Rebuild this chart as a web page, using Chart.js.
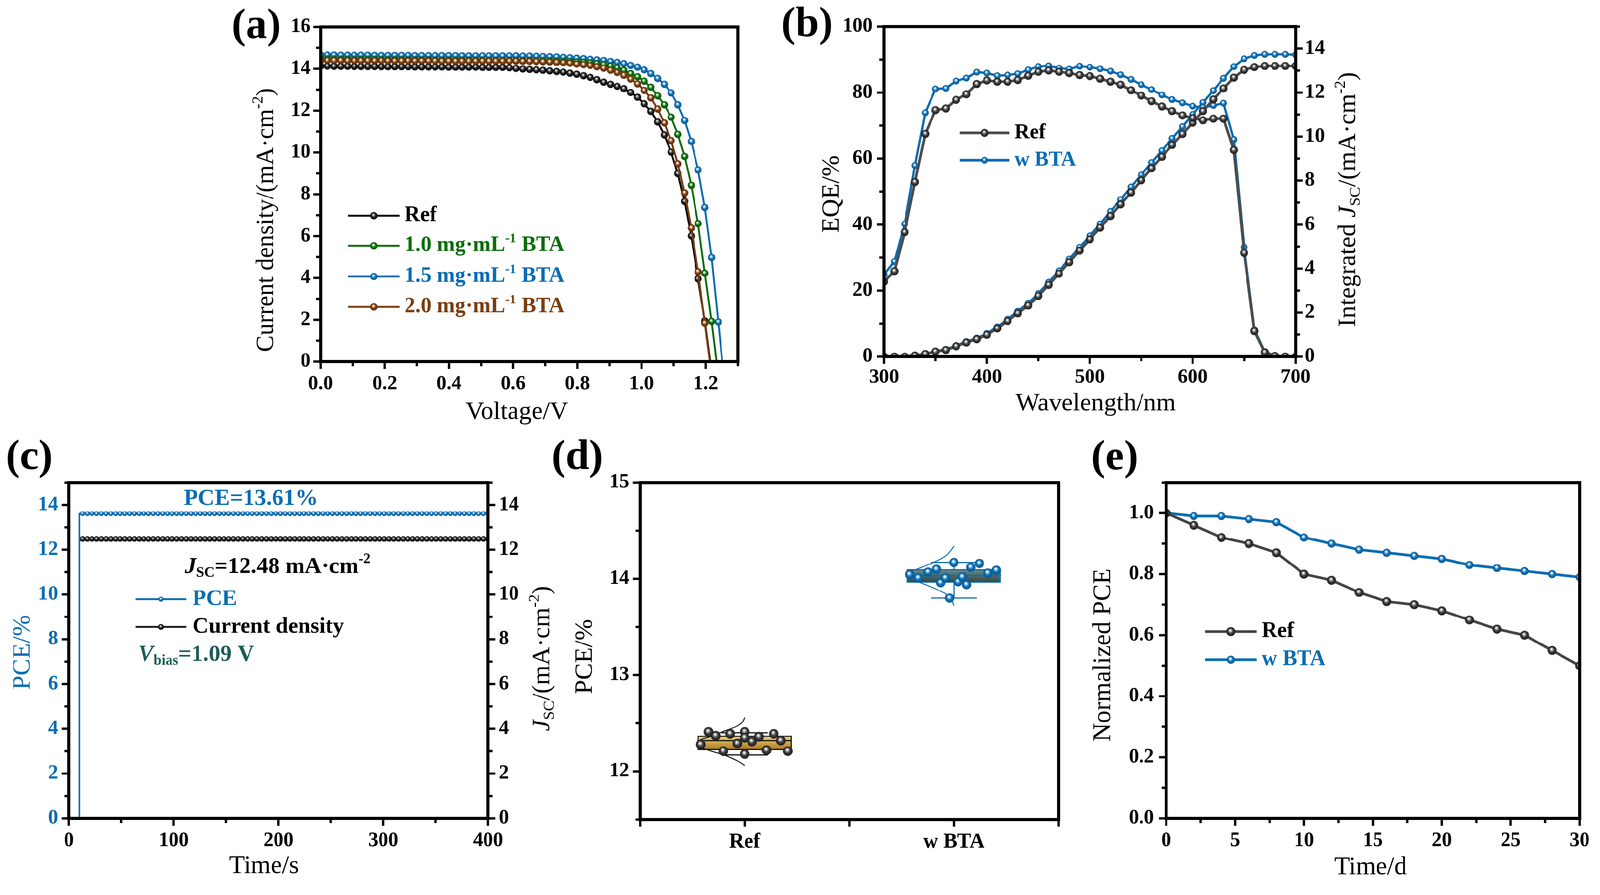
<!DOCTYPE html>
<html>
<head>
<meta charset="utf-8">
<title>BTA device results</title>
<script src="https://cdn.jsdelivr.net/npm/chart.js@4.4.1/dist/chart.umd.min.js"></script>
<style>
    html, body { margin: 0; padding: 0; background: #fff; overflow: hidden; }
    #page { position: relative; width: 4157px; height: 2290px; overflow: hidden; background: #fff; transform-origin: 0 0; }
    #page canvas { position: absolute; left: 0; top: 0; }
</style>
</head>
<body>
<div id="page">
    <canvas id="chartA" width="4157" height="2290"></canvas>
    <canvas id="chartB" width="4157" height="2290"></canvas>
    <canvas id="chartC" width="4157" height="2290"></canvas>
    <canvas id="chartD" width="4157" height="2290"></canvas>
    <canvas id="chartE" width="4157" height="2290"></canvas>
</div>
<script>
// ---- (a) J-V curves ----
const voltage = [0.000, 0.021, 0.042, 0.063, 0.084, 0.105, 0.126, 0.147, 0.168, 0.189,
    0.210, 0.231, 0.252, 0.273, 0.294, 0.315, 0.336, 0.357, 0.378, 0.399,
    0.420, 0.441, 0.462, 0.483, 0.504, 0.525, 0.546, 0.567, 0.588, 0.609,
    0.630, 0.651, 0.672, 0.693, 0.714, 0.735, 0.756, 0.777, 0.798, 0.819,
    0.840, 0.861, 0.882, 0.903, 0.924, 0.945, 0.966, 0.987, 1.008, 1.029,
    1.050, 1.071, 1.092, 1.113, 1.134, 1.155, 1.176, 1.197, 1.218, 1.239, 1.260];
const jvRef = [14.13, 14.13, 14.12, 14.12, 14.12, 14.11, 14.11, 14.11, 14.11, 14.10,
    14.10, 14.10, 14.10, 14.10, 14.09, 14.09, 14.09, 14.09, 14.09, 14.08,
    14.08, 14.08, 14.08, 14.08, 14.07, 14.07, 14.07, 14.07, 14.05, 14.02,
    13.99, 13.97, 13.95, 13.93, 13.90, 13.87, 13.84, 13.79, 13.74, 13.67,
    13.59, 13.48, 13.36, 13.26, 13.16, 13.05, 12.87, 12.64, 12.33, 11.97,
    11.46, 10.84, 10.02, 8.99, 7.66, 6.01, 3.96, 1.95, -0.45];
const jv10 = [14.47, 14.47, 14.46, 14.46, 14.46, 14.45, 14.45, 14.45, 14.45, 14.44,
    14.44, 14.44, 14.44, 14.43, 14.43, 14.43, 14.43, 14.42, 14.42, 14.42,
    14.42, 14.41, 14.41, 14.41, 14.41, 14.40, 14.40, 14.40, 14.40, 14.40,
    14.39, 14.39, 14.38, 14.38, 14.38, 14.37, 14.36, 14.35, 14.33, 14.31,
    14.28, 14.25, 14.20, 14.14, 14.05, 13.93, 13.77, 13.62, 13.41, 13.12,
    12.71, 12.28, 11.69, 10.87, 9.81, 8.43, 6.60, 4.23, 1.93, -0.7];
const jv15 = [14.66, 14.66, 14.66, 14.65, 14.65, 14.65, 14.65, 14.65, 14.64, 14.64,
    14.64, 14.64, 14.64, 14.64, 14.63, 14.63, 14.63, 14.63, 14.63, 14.63,
    14.63, 14.62, 14.62, 14.62, 14.62, 14.62, 14.62, 14.62, 14.62, 14.62,
    14.61, 14.61, 14.60, 14.59, 14.58, 14.57, 14.55, 14.53, 14.51, 14.49,
    14.46, 14.43, 14.40, 14.35, 14.31, 14.25, 14.16, 14.08, 13.95, 13.77,
    13.54, 13.26, 12.85, 12.28, 11.53, 10.53, 9.17, 7.37, 4.98, 1.90, -1.3];
const jv20 = [14.40, 14.40, 14.40, 14.40, 14.39, 14.39, 14.39, 14.39, 14.39, 14.39,
    14.38, 14.38, 14.38, 14.38, 14.38, 14.38, 14.38, 14.38, 14.37, 14.37,
    14.37, 14.37, 14.37, 14.37, 14.37, 14.37, 14.37, 14.37, 14.37, 14.37,
    14.36, 14.36, 14.35, 14.34, 14.33, 14.31, 14.29, 14.27, 14.23, 14.20,
    14.16, 14.10, 14.03, 13.93, 13.82, 13.69, 13.51, 13.28, 12.97, 12.61,
    12.08, 11.41, 10.57, 9.46, 8.07, 6.39, 4.30, 1.85, -0.6];

// ---- (b) EQE and integrated Jsc ----
const wavelength = [300, 310, 320, 330, 340, 350, 360, 370, 380, 390, 400, 410, 420, 430, 440, 450, 460, 470, 480, 490,
    500, 510, 520, 530, 540, 550, 560, 570, 580, 590, 600, 610, 620, 630, 640, 650, 660, 670, 680, 690, 700];
const eqeRef = [22.7, 25.9, 37.7, 52.9, 67.5, 74.7, 75.2, 77.8, 79.5, 82.6, 83.7, 83.3, 83.3, 83.8, 85.1, 86.3, 86.7, 86.3, 85.9, 85.3,
    85.0, 84.2, 83.3, 82.4, 80.7, 79.1, 77.4, 75.8, 74.4, 73.1, 72.3, 71.6, 72.1, 72.1, 62.6, 31.4, 7.7, 1.3, 0.2, 0, 0];
const eqeBta = [24.9, 28.8, 40.2, 57.9, 73.9, 81.1, 81.3, 83.5, 84.4, 86.2, 85.9, 85.1, 85.3, 85.7, 86.9, 87.9, 88.1, 87.4, 87.1, 88.0,
    87.7, 87.2, 86.5, 85.4, 84.0, 82.4, 80.9, 79.3, 77.9, 76.9, 75.9, 75.5, 76.1, 76.8, 65.8, 33.2, 8.2, 1.5, 0.3, 0, 0];
const intRef = [0, 0, 0, 0.05, 0.12, 0.23, 0.30, 0.47, 0.64, 0.79, 0.99, 1.28, 1.62, 1.97, 2.32, 2.76, 3.26, 3.77, 4.29, 4.82,
    5.33, 5.86, 6.39, 6.92, 7.46, 8.01, 8.56, 9.08, 9.62, 10.12, 10.63, 11.16, 11.69, 12.19, 12.68, 13.03, 13.16, 13.21, 13.21, 13.21, 13.21];
const intBta = [0, 0, 0, 0.06, 0.13, 0.25, 0.33, 0.50, 0.68, 0.84, 1.04, 1.35, 1.70, 2.06, 2.43, 2.87, 3.38, 3.90, 4.43, 4.97,
    5.49, 6.03, 6.60, 7.14, 7.71, 8.26, 8.82, 9.36, 9.92, 10.45, 11.01, 11.55, 12.09, 12.65, 13.18, 13.54, 13.69, 13.74, 13.74, 13.74, 13.72];

// ---- (c) steady-state output ----
const pceTime = [10, 10, 13, 17.5, 22, 26.5, 31, 35.5, 40, 44.5, 49, 53.5, 58, 62.5, 67, 71.5, 76, 80.5, 85, 89.5,
    94, 98.5, 103, 107.5, 112, 116.5, 121, 125.5, 130, 134.5, 139, 143.5, 148, 152.5, 157, 161.5, 166, 170.5, 175, 179.5,
    184, 188.5, 193, 197.5, 202, 206.5, 211, 215.5, 220, 224.5, 229, 233.5, 238, 242.5, 247, 251.5, 256, 260.5, 265, 269.5,
    274, 278.5, 283, 287.5, 292, 296.5, 301, 305.5, 310, 314.5, 319, 323.5, 328, 332.5, 337, 341.5, 346, 350.5, 355, 359.5,
    364, 368.5, 373, 377.5, 382, 386.5, 391, 395.5, 400];
const pceValue = [0, 13.61,
    13.61, 13.61, 13.61, 13.61, 13.61, 13.61, 13.61, 13.61, 13.61, 13.61,
    13.61, 13.61, 13.61, 13.61, 13.61, 13.61, 13.61, 13.61, 13.61, 13.61,
    13.61, 13.61, 13.61, 13.61, 13.61, 13.61, 13.61, 13.61, 13.61, 13.61,
    13.61, 13.61, 13.61, 13.61, 13.61, 13.61, 13.61, 13.61, 13.61, 13.61,
    13.61, 13.61, 13.61, 13.61, 13.61, 13.61, 13.61, 13.61, 13.61, 13.61,
    13.61, 13.61, 13.61, 13.61, 13.61, 13.61, 13.61, 13.61, 13.61, 13.61,
    13.61, 13.61, 13.61, 13.61, 13.61, 13.61, 13.61, 13.61, 13.61, 13.61,
    13.61, 13.61, 13.61, 13.61, 13.61, 13.61, 13.61, 13.61, 13.61, 13.61,
    13.61, 13.61, 13.61, 13.61, 13.61, 13.61, 13.61];
const jscTime = pceTime.slice(2);
const jscValue = [12.48, 12.48, 12.48, 12.48, 12.48, 12.48, 12.48, 12.48, 12.48, 12.48,
    12.48, 12.48, 12.48, 12.48, 12.48, 12.48, 12.48, 12.48, 12.48, 12.48,
    12.48, 12.48, 12.48, 12.48, 12.48, 12.48, 12.48, 12.48, 12.48, 12.48,
    12.48, 12.48, 12.48, 12.48, 12.48, 12.48, 12.48, 12.48, 12.48, 12.48,
    12.48, 12.48, 12.48, 12.48, 12.48, 12.48, 12.48, 12.48, 12.48, 12.48,
    12.48, 12.48, 12.48, 12.48, 12.48, 12.48, 12.48, 12.48, 12.48, 12.48,
    12.48, 12.48, 12.48, 12.48, 12.48, 12.48, 12.48, 12.48, 12.48, 12.48,
    12.48, 12.48, 12.48, 12.48, 12.48, 12.48, 12.48, 12.48, 12.48, 12.48,
    12.48, 12.48, 12.48, 12.48, 12.48, 12.48, 12.48];

// ---- (d) PCE statistics ----
const groups = ['Ref', 'w BTA'];
const refPce = [12.41, 12.37, 12.28, 12.21, 12.39, 12.41, 12.35, 12.29, 12.18, 12.31, 12.36, 12.22, 12.39, 12.32, 12.21];
const refJitter = [-0.173, -0.139, -0.21, -0.102, -0.069, 0, 0, -0.035, 0, 0.035, 0.068, 0.104, 0.139, 0.173, 0.206];
const btaPce = [14.045, 14.01, 14.07, 14.10, 13.96, 14.01, 13.80, 14.17, 13.97, 14.02, 13.94, 14.12, 14.16, 14.06, 14.09];
const btaJitter = [-0.211, -0.17, -0.124, -0.083, -0.063, -0.041, -0.021, 0, 0.02, 0.041, 0.061, 0.081, 0.122, 0.163, 0.203];
// min, q1, median, q3, max
const refBox = [12.17, 12.22, 12.32, 12.37, 12.40];
const btaBox = [13.80, 13.96, 14.035, 14.10, 14.17];
// distribution curves (offset from group centre, PCE)
const refCurveX = [0, -0.012, -0.036, -0.094, -0.168, -0.218, -0.226, -0.21, -0.16, -0.086, -0.028, 0];
const refCurveY = [12.56, 12.51, 12.47, 12.42, 12.36, 12.32, 12.29, 12.25, 12.21, 12.16, 12.10, 12.06];
const btaCurveX = [0, -0.013, -0.038, -0.087, -0.153, -0.21, -0.225, -0.2, -0.137, -0.071, -0.021, 0];
const btaCurveY = [14.34, 14.30, 14.24, 14.18, 14.12, 14.07, 14.04, 14.00, 13.94, 13.88, 13.81, 13.72];

// ---- (e) stability ----
const agingDays = [0, 2, 4, 6, 8, 10, 12, 14, 16, 18, 20, 22, 24, 26, 28, 30];
const agingRef = [1.0, 0.96, 0.92, 0.90, 0.87, 0.80, 0.78, 0.74, 0.71, 0.70, 0.68, 0.65, 0.62, 0.60, 0.55, 0.50];
const agingBta = [1.0, 0.99, 0.99, 0.98, 0.97, 0.92, 0.90, 0.88, 0.87, 0.86, 0.85, 0.83, 0.82, 0.81, 0.80, 0.79];

const FONT = '"Liberation Serif", "Times New Roman", Times, serif';
const BLUE = '#0b6db2';
const GREEN = '#0a6e0a';
const BROWN = '#7a3e12';
const TEAL = '#1d5e59';
const AXIS_W = 170;  // box reserved for y tick labels
const AXIS_H = 130;  // box reserved for x tick labels

// fit the 4157x2290 sheet into the window
const page = document.getElementById('page');
const fitScale = Math.min(window.innerWidth / 4157, window.innerHeight / 2290);
if (fitScale > 0 && Math.abs(fitScale - 1) > 0.001) {
    page.style.transform = `scale(${fitScale})`;
}

// shaded ball used as marker
function makeBall(d, base, rim, glow) {
    const c = document.createElement('canvas');
    c.width = d;
    c.height = d;
    const g = c.getContext('2d');
    const r = d / 2;
    const grad = g.createRadialGradient(r * 0.85, r * 0.7, 0, r, r, r);
    grad.addColorStop(0, '#ffffff');
    grad.addColorStop(0.2, glow);
    grad.addColorStop(0.5, base);
    grad.addColorStop(1, rim);
    g.fillStyle = grad;
    g.beginPath();
    g.arc(r, r, r - 0.5, 0, Math.PI * 2);
    g.fill();
    return c;
}
const balls = {
    black: d => makeBall(d, '#262626', '#000000', '#b5b5b5'),
    gray: d => makeBall(d, '#444444', '#151515', '#d0d0d0'),
    blue: d => makeBall(d, '#1778bd', '#064f86', '#c4eaff'),
    green: d => makeBall(d, '#147814', '#054505', '#c3efc3'),
    brown: d => makeBall(d, '#874818', '#4f2405', '#f4d6b9')
};

// text with italic / sub / sup pieces
function drawRich(ctx, item) {
    const size = item.size;
    const weight = item.weight || 'normal';
    ctx.save();
    ctx.translate(item.x, item.y);
    ctx.rotate((item.rot || 0) * Math.PI / 180);
    ctx.textBaseline = 'middle';
    ctx.textAlign = 'left';
    const segs = item.parts.map(p => {
        const part = typeof p === 'string' ? { t: p } : p;
        const s = (part.sub || part.sup) ? size * 0.62 : size;
        const font = `${part.it ? 'italic ' : ''}${weight} ${s}px ${FONT}`;
        ctx.font = font;
        return { t: part.t, font, w: ctx.measureText(part.t).width, dy: part.sub ? size * 0.28 : part.sup ? -size * 0.32 : 0 };
    });
    const total = segs.reduce((a, s) => a + s.w, 0);
    let cx = item.align === 'center' ? -total / 2 : item.align === 'right' ? -total : 0;
    ctx.fillStyle = item.color || '#000';
    segs.forEach(s => {
        ctx.font = s.font;
        ctx.fillText(s.t, cx, s.dy);
        cx += s.w;
    });
    ctx.restore();
}

// frame, tick marks, legend and labels for one panel
function deco(spec) {
    return {
        id: 'deco',
        afterDatasetsDraw(chart) {
            const ctx = chart.ctx;
            const area = chart.chartArea;
            ctx.save();
            ctx.strokeStyle = '#000';
            ctx.lineWidth = 6;
            (spec.ticks || []).forEach(t => {
                const s = chart.scales[t.id];
                const majors = s.ticks.map(k => k.value);
                const mark = (v, len) => {
                    const p = s.getPixelForValue(v);
                    ctx.beginPath();
                    if (t.side === 'bottom') { ctx.moveTo(p, area.bottom); ctx.lineTo(p, area.bottom + len); }
                    else if (t.side === 'left') { ctx.moveTo(area.left, p); ctx.lineTo(area.left - len, p); }
                    else { ctx.moveTo(area.right, p); ctx.lineTo(area.right + len, p); }
                    ctx.stroke();
                };
                majors.forEach(v => mark(v, 19));
                if (t.minor) {
                    for (let k = Math.ceil(s.min / t.minor - 1e-6); k * t.minor <= s.max + 1e-6; k++) {
                        const v = k * t.minor;
                        if (!majors.some(m => Math.abs(m - v) < 1e-6)) mark(v, 12);
                    }
                }
            });
            ctx.lineWidth = 8;
            ctx.strokeRect(area.left, area.top, area.right - area.left, area.bottom - area.top);

            const lg = spec.legend;
            if (lg) {
                lg.rows.forEach(row => {
                    const ds = chart.data.datasets[row.ds];
                    ctx.strokeStyle = ds.borderColor;
                    ctx.lineWidth = lg.lw;
                    ctx.beginPath();
                    ctx.moveTo(lg.x1, row.y);
                    ctx.lineTo(lg.x2, row.y);
                    ctx.stroke();
                    const img = ds.pointStyle;
                    ctx.drawImage(img, (lg.x1 + lg.x2) / 2 - img.width / 2, row.y - img.height / 2);
                    drawRich(ctx, { x: lg.tx, y: row.y, parts: row.parts, size: lg.size, weight: 'bold', color: row.color });
                });
            }
            (spec.texts || []).forEach(t => drawRich(ctx, t));
            ctx.restore();
        }
    };
}

function axis(min, max, step, o) {
    const horizontal = o.position === 'bottom';
    return {
        type: 'linear',
        position: o.position,
        min: min,
        max: max,
        offset: false,
        grid: { display: false, drawTicks: false },
        border: { display: false },
        ticks: {
            stepSize: step,
            includeBounds: false,
            autoSkip: false,
            maxRotation: 0,
            padding: o.pad,
            color: o.color || '#000',
            font: { family: FONT, size: o.size || 52, weight: 'bold' },
            callback: o.fmt || (v => String(v))
        },
        // fixed axis boxes so the plot frame lands where the layout says
        afterFit: horizontal ? s => { s.height = AXIS_H; } : s => { s.width = AXIS_W; }
    };
}

// plot frame given as sheet pixels: left, top, right, bottom
function frame(left, top, right, bottom, hasRight) {
    return {
        padding: {
            left: left - AXIS_W,
            top: top,
            right: 4157 - right - (hasRight ? AXIS_W : 0),
            bottom: 2290 - bottom - AXIS_H
        }
    };
}

const base = {
    responsive: false,
    animation: false,
    devicePixelRatio: 1,
    events: [],
    plugins: { legend: { display: false }, tooltip: { enabled: false } }
};

const xy = (xs, ys) => ys.map((y, i) => ({ x: xs[i], y: y }));

function lineSet(label, data, color, width, ball, extra) {
    return Object.assign({
        label: label,
        data: data,
        borderColor: color,
        borderWidth: width,
        pointStyle: ball,
        pointRadius: ball.width / 2,
        pointBorderWidth: 0,
        tension: 0,
        fill: false
    }, extra || {});
}

// (a)
const ballA = { black: balls.black(20), green: balls.green(20), blue: balls.blue(20), brown: balls.brown(20) };
new Chart(document.getElementById('chartA'), {
    type: 'line',
    data: {
        datasets: [
            lineSet('2.0 mg·mL-1 BTA', xy(voltage, jv20), BROWN, 5, ballA.brown),
            lineSet('1.0 mg·mL-1 BTA', xy(voltage, jv10), GREEN, 5, ballA.green),
            lineSet('1.5 mg·mL-1 BTA', xy(voltage, jv15), BLUE, 5, ballA.blue),
            lineSet('Ref', xy(voltage, jvRef), '#000000', 5, ballA.black)
        ]
    },
    options: Object.assign({}, base, {
        layout: frame(833, 70, 1917, 939, false),
        scales: {
            x: axis(0, 1.3, 0.2, { position: 'bottom', pad: 27, fmt: v => v.toFixed(1) }),
            y: axis(0, 16, 2, { position: 'left', pad: 26 })
        }
    }),
    plugins: [deco({
        ticks: [{ id: 'x', side: 'bottom', minor: 0.1 }, { id: 'y', side: 'left', minor: 1 }],
        legend: {
            x1: 904, x2: 1038, tx: 1051, size: 56, lw: 5,
            rows: [
                { ds: 3, y: 560, parts: ['Ref'], color: '#000' },
                { ds: 1, y: 638, parts: ['1.0 mg·mL', { t: '-1', sup: true }, ' BTA'], color: GREEN },
                { ds: 2, y: 718, parts: ['1.5 mg·mL', { t: '-1', sup: true }, ' BTA'], color: BLUE },
                { ds: 0, y: 797, parts: ['2.0 mg·mL', { t: '-1', sup: true }, ' BTA'], color: BROWN }
            ]
        },
        texts: [
            { x: 666, y: 70, parts: ['(a)'], size: 110, weight: 'bold', align: 'center' },
            { x: 692, y: 571, parts: ['Current density/(mA·cm', { t: '-2', sup: true }, ')'], size: 64, rot: -90, align: 'center' },
            { x: 1343, y: 1071, parts: ['Voltage/V'], size: 66, align: 'center' }
        ]
    })]
});

// (b)
const ballB = { gray: balls.gray(22), blue: balls.blue(19) };
new Chart(document.getElementById('chartB'), {
    type: 'line',
    data: {
        datasets: [
            lineSet('Ref', xy(wavelength, eqeRef), '#4d4d4d', 7, ballB.gray, { yAxisID: 'y' }),
            lineSet('Ref integrated', xy(wavelength, intRef), '#4d4d4d', 7, ballB.gray, { yAxisID: 'y1' }),
            lineSet('w BTA', xy(wavelength, eqeBta), BLUE, 6, ballB.blue, { yAxisID: 'y' }),
            lineSet('w BTA integrated', xy(wavelength, intBta), BLUE, 6, ballB.blue, { yAxisID: 'y1' })
        ]
    },
    options: Object.assign({}, base, {
        layout: frame(2297, 69, 3366, 926, true),
        scales: {
            x: axis(300, 700, 100, { position: 'bottom', pad: 23 }),
            y: axis(0, 100, 20, { position: 'left', pad: 30 }),
            y1: axis(0, 15, 2, { position: 'right', pad: 24 })
        }
    }),
    plugins: [deco({
        ticks: [{ id: 'x', side: 'bottom', minor: 50 }, { id: 'y', side: 'left', minor: 10 }, { id: 'y1', side: 'right', minor: 1 }],
        legend: {
            x1: 2494, x2: 2622, tx: 2636, size: 54, lw: 7,
            rows: [
                { ds: 0, y: 345, parts: ['Ref'], color: '#000' },
                { ds: 2, y: 416, parts: ['w BTA'], color: BLUE }
            ]
        },
        texts: [
            { x: 2097, y: 66, parts: ['(b)'], size: 110, weight: 'bold', align: 'center' },
            { x: 2162, y: 504, parts: ['EQE/%'], size: 66, rot: -90, align: 'center' },
            { x: 3504, y: 518, parts: ['Integrated ', { t: 'J', it: true }, { t: 'SC', sub: true }, '/(mA·cm', { t: '-2', sup: true }, ')'], size: 66, rot: -90, align: 'center' },
            { x: 2847, y: 1049, parts: ['Wavelength/nm'], size: 66, align: 'center' }
        ]
    })]
});

// (c)
const ballC = { blue: balls.blue(14), black: balls.black(16) };
new Chart(document.getElementById('chartC'), {
    type: 'line',
    data: {
        datasets: [
            lineSet('PCE', xy(pceTime, pceValue), BLUE, 4, ballC.blue, {
                yAxisID: 'y',
                pointRadius: c => (c.dataIndex < 2 ? 0 : 7)
            }),
            lineSet('Current density', xy(jscTime, jscValue), '#1a1a1a', 4, ballC.black, { yAxisID: 'y1' })
        ]
    },
    options: Object.assign({}, base, {
        layout: frame(179, 1253, 1268, 2125, true),
        scales: {
            x: axis(0, 400, 100, { position: 'bottom', pad: 27 }),
            y: axis(0, 15, 2, { position: 'left', pad: 28, color: BLUE }),
            y1: axis(0, 15, 2, { position: 'right', pad: 28 })
        }
    }),
    plugins: [deco({
        ticks: [{ id: 'x', side: 'bottom', minor: 50 }, { id: 'y', side: 'left', minor: 1 }, { id: 'y1', side: 'right', minor: 1 }],
        legend: {
            x1: 352, x2: 484, tx: 500, size: 58, lw: 5,
            rows: [
                { ds: 0, y: 1556, parts: ['PCE'], color: BLUE },
                { ds: 1, y: 1628, parts: ['Current density'], color: '#000' }
            ]
        },
        texts: [
            { x: 76, y: 1190, parts: ['(c)'], size: 110, weight: 'bold', align: 'center' },
            { x: 60, y: 1694, parts: ['PCE/%'], size: 66, rot: -90, align: 'center', color: BLUE },
            { x: 1410, y: 1710, parts: [{ t: 'J', it: true }, { t: 'SC', sub: true }, '/(mA·cm', { t: '-2', sup: true }, ')'], size: 66, rot: -90, align: 'center' },
            { x: 686, y: 2250, parts: ['Time/s'], size: 66, align: 'center' },
            { x: 652, y: 1295, parts: ['PCE=13.61%'], size: 60, weight: 'bold', align: 'center', color: BLUE },
            { x: 480, y: 1472, parts: [{ t: 'J', it: true }, { t: 'SC', sub: true }, '=12.48 mA·cm', { t: '-2', sup: true }], size: 60, weight: 'bold' },
            { x: 359, y: 1700, parts: [{ t: 'V', it: true }, { t: 'bias', sub: true }, '=1.09 V'], size: 60, weight: 'bold', color: TEAL }
        ]
    })]
});

// (d)
const BOX_HALF = 0.225; // half box width in group units
const CAP = 0.11;       // half whisker-cap width
const boxFill = [['#f4d27a', '#a4761c'], ['#6c8d8b', '#2c4747']];
const boxLine = ['#111111', BLUE];
const boxes = [refBox, btaBox];

function whisker(g, b) {
    return [
        { x: g - CAP, y: b[0] }, { x: g + CAP, y: b[0] }, { x: g, y: null },
        { x: g, y: b[0] }, { x: g, y: b[4] }, { x: g, y: null },
        { x: g - CAP, y: b[4] }, { x: g + CAP, y: b[4] }
    ];
}
const shift = (xs, g) => xs.map(v => v + g);
const ballD = { gray: balls.gray(26), blue: balls.blue(25) };
const thin = (data, color, w, order, tension) => ({
    type: 'line', data: data, borderColor: color, borderWidth: w, pointRadius: 0,
    tension: tension || 0, spanGaps: false, order: order
});

new Chart(document.getElementById('chartD'), {
    type: 'line',
    data: {
        datasets: [
            thin(whisker(0, refBox), boxLine[0], 3, 7),
            thin(whisker(1, btaBox), boxLine[1], 3, 7),
            {
                type: 'bar',
                data: [{ x: 0, y: [refBox[1], refBox[3]] }, { x: 1, y: [btaBox[1], btaBox[3]] }],
                backgroundColor: c => {
                    const ch = c.chart;
                    if (!ch.chartArea || c.dataIndex === undefined) return 'transparent';
                    const b = boxes[c.dataIndex];
                    const ys = ch.scales.y;
                    const g = ch.ctx.createLinearGradient(0, ys.getPixelForValue(b[3]), 0, ys.getPixelForValue(b[1]));
                    g.addColorStop(0, boxFill[c.dataIndex][0]);
                    g.addColorStop(1, boxFill[c.dataIndex][1]);
                    return g;
                },
                borderColor: boxLine,
                borderWidth: 3,
                borderSkipped: false,
                // tick spacing (0.5) sets the bar slot, 0.9 of it = 0.45 group units
                barPercentage: 0.9,
                categoryPercentage: 1,
                order: 6
            },
            thin([{ x: -BOX_HALF, y: refBox[2] }, { x: BOX_HALF, y: refBox[2] }], boxLine[0], 3, 5),
            thin([{ x: 1 - BOX_HALF, y: btaBox[2] }, { x: 1 + BOX_HALF, y: btaBox[2] }], boxLine[1], 3, 5),
            thin(xy(shift(refCurveX, 0), refCurveY), boxLine[0], 2.5, 4, 0.4),
            thin(xy(shift(btaCurveX, 1), btaCurveY), boxLine[1], 2.5, 4, 0.4),
            { type: 'line', data: xy(shift(refJitter, 0), refPce), showLine: false, pointStyle: ballD.gray, pointRadius: 13, order: 1 },
            { type: 'line', data: xy(shift(btaJitter, 1), btaPce), showLine: false, pointStyle: ballD.blue, pointRadius: 12.5, order: 1 }
        ]
    },
    options: Object.assign({}, base, {
        layout: frame(1663, 1253, 2750, 2128, false),
        scales: {
            x: axis(-0.5, 1.5, 0.5, { position: 'bottom', pad: 27, size: 54, fmt: v => (v === 0 ? groups[0] : v === 1 ? groups[1] : '') }),
            y: axis(11.5, 15, 1, { position: 'left', pad: 28 })
        }
    }),
    plugins: [deco({
        ticks: [{ id: 'x', side: 'bottom' }, { id: 'y', side: 'left', minor: 0.5 }],
        texts: [
            { x: 1500, y: 1190, parts: ['(d)'], size: 110, weight: 'bold', align: 'center' },
            { x: 1521, y: 1705, parts: ['PCE/%'], size: 66, rot: -90, align: 'center' }
        ]
    })]
});

// (e)
const ballE = { gray: balls.gray(24), blue: balls.blue(22) };
new Chart(document.getElementById('chartE'), {
    type: 'line',
    data: {
        datasets: [
            lineSet('Ref', xy(agingDays, agingRef), '#454545', 7, ballE.gray),
            lineSet('w BTA', xy(agingDays, agingBta), BLUE, 7, ballE.blue)
        ]
    },
    options: Object.assign({}, base, {
        layout: frame(3030, 1253, 4114, 2125, false),
        scales: {
            x: axis(0, 30, 5, { position: 'bottom', pad: 27 }),
            y: axis(0, 1.1, 0.2, { position: 'left', pad: 32, fmt: v => v.toFixed(1) })
        }
    }),
    plugins: [deco({
        ticks: [{ id: 'x', side: 'bottom', minor: 2.5 }, { id: 'y', side: 'left', minor: 0.1 }],
        legend: {
            x1: 3131, x2: 3265, tx: 3278, size: 56, lw: 7,
            rows: [
                { ds: 0, y: 1640, parts: ['Ref'], color: '#000' },
                { ds: 1, y: 1713, parts: ['w BTA'], color: BLUE }
            ]
        },
        texts: [
            { x: 2896, y: 1191, parts: ['(e)'], size: 110, weight: 'bold', align: 'center' },
            { x: 2867, y: 1701, parts: ['Normalized PCE'], size: 66, rot: -90, align: 'center' },
            { x: 3561, y: 2253, parts: ['Time/d'], size: 66, align: 'center' }
        ]
    })]
});
</script>
</body>
</html>
